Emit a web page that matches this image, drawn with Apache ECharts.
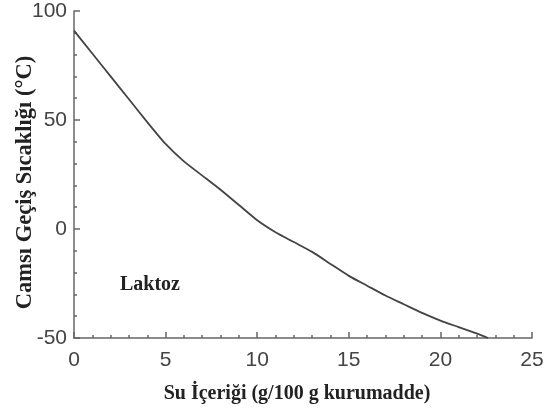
<!DOCTYPE html>
<html>
<head>
<meta charset="utf-8">
<script src="https://cdn.jsdelivr.net/npm/echarts@6/dist/echarts.min.js"></script>
<style>
  html, body { margin: 0; padding: 0; background: #fff; }
  #chart { width: 550px; height: 410px; }
</style>
</head>
<body>
<div id="chart"></div>
<script>
  // su içeriği (g/100 g kurumadde)
  var suIcerigi = [0, 1, 2, 3, 4, 5, 6, 7, 8, 9, 10, 11, 12, 13, 14, 15, 16, 17, 18, 19, 20, 21, 22, 22.6];
  // camsı geçiş sıcaklığı (°C)
  var tgDegerleri = [91, 80.5, 70, 59.5, 49, 39, 31, 24.5, 18, 11, 4, -1.5, -6, -10.5, -16, -21.5, -26, -30.5, -34.5, -38.5, -42, -45, -48, -50];

  var myChart = echarts.init(document.getElementById('chart'));
  var axisColor = '#666';
  var labelStyle = { color: '#444', fontFamily: 'Liberation Sans', fontSize: 21 };
  var nameStyle = { color: '#222', fontFamily: 'Liberation Serif', fontWeight: 'bold', fontSize: 20 };

  var option = {
    animation: false,
    grid: { left: 74, right: 18, top: 11, bottom: 72, outerBoundsMode: 'none' },
    xAxis: {
      type: 'value',
      min: 0,
      max: 25,
      interval: 5,
      name: 'Su İçeriği (g/100 g kurumadde)',
      nameLocation: 'middle',
      nameGap: 46,
      nameTextStyle: Object.assign({}, nameStyle, { padding: [0, 12, 0, 0] }),
      axisLine: { show: true, onZero: false, lineStyle: { color: axisColor, width: 1.5 } },
      axisTick: { show: true, inside: true, length: 6, lineStyle: { color: axisColor, width: 1.5 } },
      minorTick: { show: true, splitNumber: 5, length: 3, lineStyle: { color: axisColor, width: 1.5 } },
      axisLabel: Object.assign({ margin: 12 }, labelStyle),
      splitLine: { show: false }
    },
    yAxis: {
      type: 'value',
      min: -50,
      max: 100,
      interval: 50,
      name: 'Camsı Geçiş Sıcaklığı (°C)',
      nameLocation: 'middle',
      nameGap: 37,
      nameMoveOverlap: false,
      nameTextStyle: Object.assign({}, nameStyle, { fontSize: 22.5, padding: [0, 16, 0, 0] }),
      axisLine: { show: true, onZero: false, lineStyle: { color: axisColor, width: 1.5 } },
      axisTick: { show: true, inside: true, length: 6, lineStyle: { color: axisColor, width: 1.5 } },
      minorTick: { show: true, splitNumber: 5, length: 3, lineStyle: { color: axisColor, width: 1.5 } },
      axisLabel: Object.assign({ margin: 7 }, labelStyle),
      splitLine: { show: false }
    },
    graphic: [{
      type: 'text',
      left: 120,
      top: 275,
      style: { text: 'Laktoz', fill: '#222', font: 'bold 20px "Liberation Serif"' }
    }],
    series: [{
      type: 'line',
      data: suIcerigi.map(function (x, i) { return [x, tgDegerleri[i]]; }),
      showSymbol: false,
      smooth: 0.2,
      lineStyle: { color: '#444', width: 1.8 }
    }]
  };
  myChart.setOption(option);
</script>
</body>
</html>
